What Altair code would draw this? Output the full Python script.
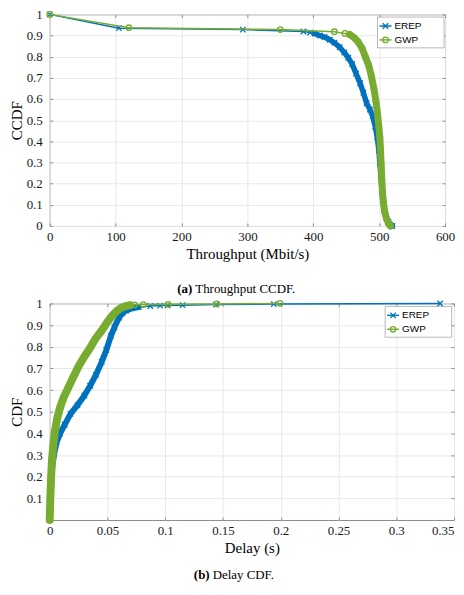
import altair as alt
import pandas as pd

# ---------------- data ----------------
series_names = ["EREP", "GWP"]

# (a) Throughput CCDF
erep_tp_x = [0, 105, 293, 385, 395, 402, 410, 417, 425, 432, 440, 447, 453, 459, 465,
             471, 476, 481, 486, 490, 494, 497, 499.5, 501, 502.5, 504, 505.5, 507.5,
             510.5, 514, 520]
erep_tp_y = [1.0, 0.935, 0.928, 0.919, 0.914, 0.909, 0.900, 0.893, 0.880, 0.866, 0.845,
             0.820, 0.795, 0.765, 0.720, 0.675, 0.630, 0.580, 0.550, 0.520, 0.470, 0.420,
             0.360, 0.300, 0.240, 0.180, 0.120, 0.080, 0.045, 0.020, 0.0]
gwp_tp_x = [0, 120, 350, 432, 448, 455, 462, 468, 474, 479, 484, 488, 492, 495, 497.5,
            499.5, 501, 502, 503, 504, 505, 506.5, 508.5, 511, 514, 517]
gwp_tp_y = [1.0, 0.937, 0.928, 0.918, 0.910, 0.905, 0.890, 0.870, 0.840, 0.800, 0.760,
            0.710, 0.650, 0.590, 0.530, 0.470, 0.420, 0.360, 0.290, 0.220, 0.160, 0.110,
            0.065, 0.035, 0.012, 0.0]

# (b) Delay CDF
erep_d_x = [0, 0.0008, 0.002, 0.004, 0.006, 0.009, 0.013, 0.018, 0.024, 0.030, 0.035,
            0.040, 0.045, 0.049, 0.053, 0.056, 0.060, 0.063, 0.066, 0.071, 0.077, 0.087,
            0.0955, 0.102, 0.115, 0.144, 0.194, 0.338]
erep_d_y = [0.0, 0.12, 0.24, 0.31, 0.36, 0.40, 0.44, 0.49, 0.53, 0.575, 0.62, 0.67, 0.73,
            0.785, 0.85, 0.89, 0.935, 0.955, 0.967, 0.977, 0.983, 0.988, 0.990, 0.991,
            0.992, 0.995, 0.997, 1.0]
gwp_d_x = [0, 0.0005, 0.0012, 0.002, 0.003, 0.0045, 0.0065, 0.009, 0.012, 0.016, 0.020,
           0.025, 0.030, 0.035, 0.040, 0.045, 0.050, 0.054, 0.058, 0.062, 0.066, 0.0695,
           0.0735, 0.081, 0.1026, 0.1447, 0.1994]
gwp_d_y = [0.0, 0.10, 0.20, 0.28, 0.34, 0.41, 0.47, 0.52, 0.565, 0.61, 0.655, 0.71, 0.755,
           0.795, 0.84, 0.875, 0.915, 0.943, 0.965, 0.980, 0.988, 0.992, 0.994, 0.995,
           0.996, 0.998, 1.0]

tp_ticks = [0, 100, 200, 300, 400, 500, 600]
ccdf_ticks = [0, 0.1, 0.2, 0.3, 0.4, 0.5, 0.6, 0.7, 0.8, 0.9, 1]
delay_ticks = [0, 0.05, 0.1, 0.15, 0.2, 0.25, 0.3, 0.35]
cdf_ticks = [0.1, 0.2, 0.3, 0.4, 0.5, 0.6, 0.7, 0.8, 0.9, 1]

caption_a = ["(a)", "Throughput CCDF."]
caption_b = ["(b)", "Delay CDF."]

# ---------------- styling ----------------
BLUE = "#0072BD"
GREEN = "#77AC30"
SERIF = "Liberation Serif"
SANS = "Liberation Sans"
XPATH = "M-1,-1L1,1M-1,1L1,-1"
TICK = "#8c8c8c"
GRID = "#e8e8e8"

colors = [BLUE, GREEN]
shapes = [XPATH, "circle"]

W1, H1 = 398, 213
W2, H2 = 407, 218


def xaxis(values, title, fmt, align):
    return alt.Axis(values=values, format=fmt, title=title, labelFlush=False,
                    labelOverlap=False, labelAlign=align, grid=True, gridColor=GRID,
                    gridWidth=1, domain=False, ticks=True, tickSize=3, tickColor=TICK,
                    offset=-3, labelPadding=5, titlePadding=3, labelFont=SERIF,
                    labelFontSize=13, labelColor="#1a1a1a", titleFont=SERIF,
                    titleFontSize=15, titleFontWeight="normal", titleColor="#000000")


def yaxis(values, title):
    return alt.Axis(values=values, format="~g", title=title, labelFlush=False,
                    labelOverlap=False, grid=True, gridColor=GRID, gridWidth=1,
                    domain=False, ticks=True, tickSize=3, tickColor=TICK, offset=-3,
                    labelPadding=7.5, titlePadding=2, labelFont=SERIF, labelFontSize=13,
                    labelColor="#1a1a1a", titleFont=SERIF, titleFontSize=15,
                    titleFontWeight="normal", titleColor="#000000")


def frame_axis(orient, values):
    return alt.Axis(orient=orient, values=values, labels=False, grid=False, domain=False,
                    ticks=True, tickSize=3, tickColor=TICK, offset=-3, title=None)


def series_layers(xs, ys, idx, xsc, ysc, xa, ya, thick_w, thick_test):
    df = pd.DataFrame({"x": xs, "y": ys})
    base = alt.Chart(df).encode(
        x=alt.X("x:Q", scale=xsc, axis=xa),
        y=alt.Y("y:Q", scale=ysc, axis=ya),
    )
    line = base.mark_line(color=colors[idx], strokeWidth=1.5)
    thick = base.transform_filter(thick_test).mark_line(
        color=colors[idx], strokeWidth=thick_w, strokeCap="round", strokeJoin="round")
    pts = base.mark_point(shape=shapes[idx], color=colors[idx], size=30,
                          strokeWidth=1.3, filled=False, opacity=1)
    return [line, thick, pts]


def frame_layer(xs, ys, xsc, ysc, xv, yv):
    df = pd.DataFrame({"x": xs, "y": ys})
    return alt.Chart(df).mark_point(opacity=0).encode(
        x=alt.X("x:Q", scale=xsc, axis=frame_axis("top", xv)),
        y=alt.Y("y:Q", scale=ysc, axis=frame_axis("right", yv)),
    )


dummy = pd.DataFrame({"a": [0]})


def legend_layers(x0, y0):
    out = [alt.Chart(dummy).mark_rect(fill="white", stroke="#a6a6a6", strokeWidth=0.8).encode(
        x=alt.value(x0), x2=alt.value(x0 + 67), y=alt.value(y0), y2=alt.value(y0 + 31))]
    for i, name in enumerate(series_names):
        yy = y0 + 9 + 14 * i
        out.append(alt.Chart(dummy).mark_rule(color=colors[i], strokeWidth=1.5).encode(
            x=alt.value(x0 + 2), x2=alt.value(x0 + 14), y=alt.value(yy)))
        out.append(alt.Chart(dummy).mark_point(shape=shapes[i], color=colors[i], size=30,
                                               strokeWidth=1.3, filled=False, opacity=1).encode(
            x=alt.value(x0 + 8), y=alt.value(yy)))
        out.append(alt.Chart(dummy).mark_text(align="left", baseline="middle", font=SANS,
                                              fontSize=10, color="#000000").encode(
            x=alt.value(x0 + 17), y=alt.value(yy), text=alt.value(name)))
    return out


def caption_layers(cap, xsplit, yy):
    bold = alt.Chart(dummy).mark_text(align="right", baseline="middle", font=SERIF,
                                      fontSize=13, fontWeight="bold", color="#000000").encode(
        x=alt.value(xsplit), y=alt.value(yy), text=alt.value(cap[0]))
    norm = alt.Chart(dummy).mark_text(align="left", baseline="middle", font=SERIF,
                                      fontSize=13, color="#000000").encode(
        x=alt.value(xsplit + 3), y=alt.value(yy), text=alt.value(cap[1]))
    return [bold, norm]


# ---------------- panel (a) ----------------
xs1 = alt.Scale(domain=[0, 600], nice=False, zero=False)
ys1 = alt.Scale(domain=[0, 1], nice=False, zero=False)
xa1 = xaxis(tp_ticks, "Throughput (Mbit/s)", "d", "center")
ya1 = yaxis(ccdf_ticks, "CCDF")

top_main = alt.layer(*(
    series_layers(erep_tp_x, erep_tp_y, 0, xs1, ys1, xa1, ya1, 5.5, alt.datum.x >= 400)
    + series_layers(gwp_tp_x, gwp_tp_y, 1, xs1, ys1, xa1, ya1, 7, alt.datum.x >= 452)
    + legend_layers(330, 2.7)
    + caption_layers(caption_a, 143.5, H1 + 63)
))
top = alt.layer(
    top_main, frame_layer(gwp_tp_x, gwp_tp_y, xs1, ys1, tp_ticks, ccdf_ticks)
).resolve_scale(x="independent", y="independent").properties(width=W1, height=H1)

# ---------------- panel (b) ----------------
xs2 = alt.Scale(domain=[0, 0.35], nice=False, zero=False)
ys2 = alt.Scale(domain=[0, 1], nice=False, zero=False)
last_right = {"condition": {"test": "datum.value >= 0.349", "value": "right"},
              "value": "center"}
xa2 = xaxis(delay_ticks, "Delay (s)", "~g", last_right)
ya2 = yaxis(cdf_ticks, "CDF")

bottom_main = alt.layer(*(
    series_layers(erep_d_x, erep_d_y, 0, xs2, ys2, xa2, ya2, 6, alt.datum.x <= 0.08)
    + series_layers(gwp_d_x, gwp_d_y, 1, xs2, ys2, xa2, ya2, 8, alt.datum.x <= 0.072)
    + legend_layers(337.7, 3)
    + caption_layers(caption_b, 161, H2 + 55.5)
))
bottom = alt.layer(
    bottom_main, frame_layer(gwp_d_x, gwp_d_y, xs2, ys2, delay_ticks, cdf_ticks)
).resolve_scale(x="independent", y="independent").properties(width=W2, height=H2)

chart = alt.vconcat(top, bottom, spacing=78, bounds="flush").configure_view(
    stroke=TICK, strokeWidth=1
).properties(
    padding={"left": 0, "top": -2.5, "right": 0, "bottom": -1},
    background="white",
)

chart.save("out.html", embed_options={"renderer": "svg", "actions": False})
